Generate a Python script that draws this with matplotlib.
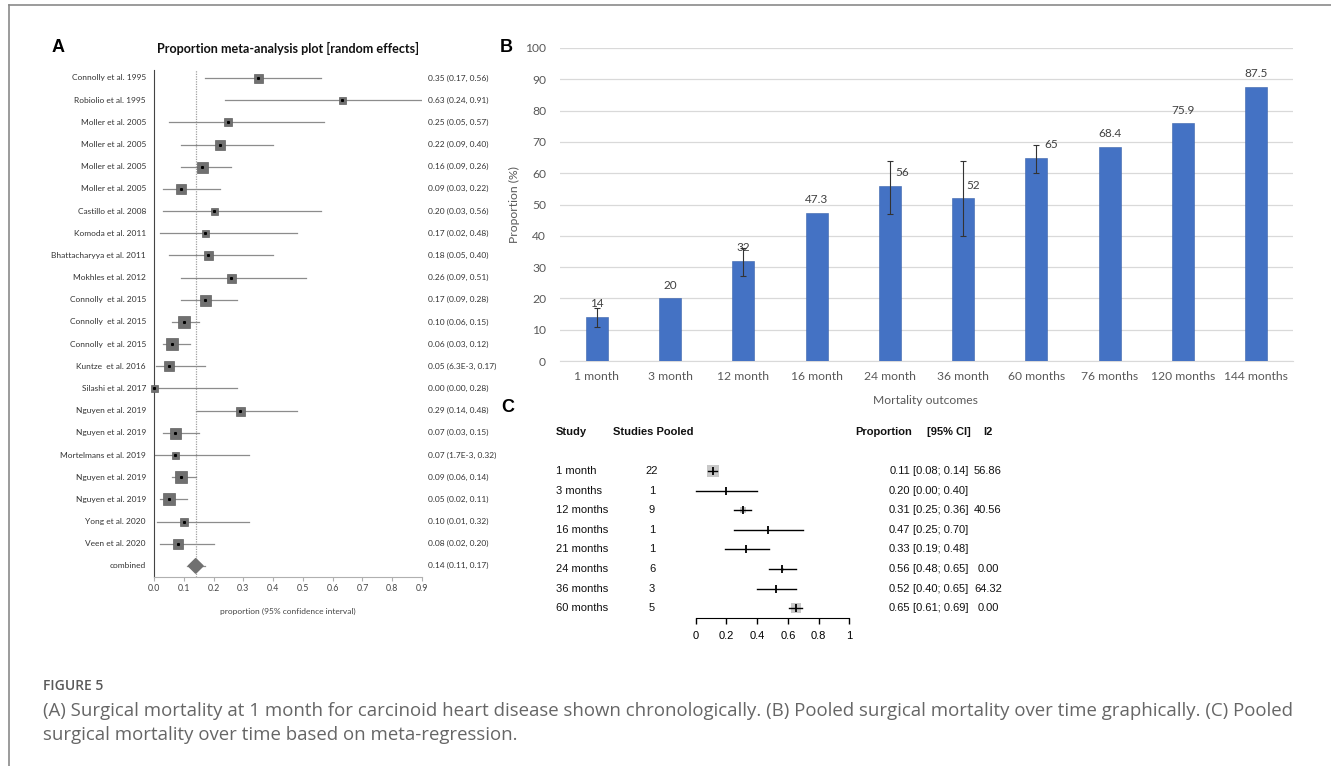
import numpy as np
import matplotlib
matplotlib.use("Agg")
import matplotlib.pyplot as plt
from matplotlib.patches import Polygon

# ---- panel A data: proportion meta-analysis (random effects) ----
studies = ["Connolly et al. 1995", "Robiolio et al. 1995", "Moller et al. 2005",
           "Moller et al. 2005", "Moller et al. 2005", "Moller et al. 2005",
           "Castillo et al. 2008", "Komoda et al. 2011", "Bhattacharyya et al. 2011",
           "Mokhles et al. 2012", "Connolly  et al. 2015", "Connolly  et al. 2015",
           "Connolly  et al. 2015", "Kuntze  et al. 2016", "Silashi et al. 2017",
           "Nguyen et al. 2019", "Nguyen et al. 2019", "Mortelmans et al. 2019",
           "Nguyen et al. 2019", "Nguyen et al. 2019", "Yong et al. 2020",
           "Veen et al. 2020"]
est_a = [0.35, 0.63, 0.25, 0.22, 0.16, 0.09, 0.20, 0.17, 0.18, 0.26, 0.17,
         0.10, 0.06, 0.05, 0.00, 0.29, 0.07, 0.07, 0.09, 0.05, 0.10, 0.08]
lo_a = [0.17, 0.24, 0.05, 0.09, 0.09, 0.03, 0.03, 0.02, 0.05, 0.09, 0.09,
        0.06, 0.03, 0.0063, 0.00, 0.14, 0.03, 0.0017, 0.06, 0.02, 0.01, 0.02]
hi_a = [0.56, 0.91, 0.57, 0.40, 0.26, 0.22, 0.56, 0.48, 0.40, 0.51, 0.28,
        0.15, 0.12, 0.17, 0.28, 0.48, 0.15, 0.32, 0.14, 0.11, 0.32, 0.20]
ci_text_a = ["0.35 (0.17, 0.56)", "0.63 (0.24, 0.91)", "0.25 (0.05, 0.57)",
             "0.22 (0.09, 0.40)", "0.16 (0.09, 0.26)", "0.09 (0.03, 0.22)",
             "0.20 (0.03, 0.56)", "0.17 (0.02, 0.48)", "0.18 (0.05, 0.40)",
             "0.26 (0.09, 0.51)", "0.17 (0.09, 0.28)", "0.10 (0.06, 0.15)",
             "0.06 (0.03, 0.12)", "0.05 (6.3E-3, 0.17)", "0.00 (0.00, 0.28)",
             "0.29 (0.14, 0.48)", "0.07 (0.03, 0.15)", "0.07 (1.7E-3, 0.32)",
             "0.09 (0.06, 0.14)", "0.05 (0.02, 0.11)", "0.10 (0.01, 0.32)",
             "0.08 (0.02, 0.20)"]
# relative study weight (square side, px)
weight_a = [9, 7, 8, 10, 11, 10, 7, 7, 9, 9, 11, 12, 12, 10, 7, 9, 11, 7, 12, 12, 8, 10]
combined = (0.14, 0.11, 0.17)
combined_text = "0.14 (0.11, 0.17)"

# ---- panel B data: pooled mortality over time ----
months_b = ["1 month", "3 month", "12 month", "16 month", "24 month", "36 month",
            "60 months", "76 months", "120 months", "144 months"]
prop_b = [14, 20, 32, 47.3, 56, 52, 65, 68.4, 75.9, 87.5]
err_lo_b = [11, np.nan, 27, np.nan, 47, 40, 60, np.nan, np.nan, np.nan]
err_hi_b = [17, np.nan, 36, np.nan, 64, 64, 69, np.nan, np.nan, np.nan]
label_b = ["14", "20", "32", "47.3", "56", "52", "65", "68.4", "75.9", "87.5"]

# ---- panel C data: meta-regression ----
period_c = ["1 month", "3 months", "12 months", "16 months", "21 months",
            "24 months", "36 months", "60 months"]
pooled_c = [22, 1, 9, 1, 1, 6, 3, 5]
est_c = [0.11, 0.20, 0.31, 0.47, 0.33, 0.56, 0.52, 0.65]
lo_c = [0.08, 0.00, 0.25, 0.25, 0.19, 0.48, 0.40, 0.61]
hi_c = [0.14, 0.40, 0.36, 0.70, 0.48, 0.65, 0.65, 0.69]
i2_c = ["56.86", "", "40.56", "", "", "0.00", "64.32", "0.00"]
weight_c = [12, 0, 6, 0, 0, 3, 0, 10]

W, H = 1331, 766
fig = plt.figure(figsize=(W / 100, H / 100), dpi=100)


def px_ax(l, t, r, b):
    return fig.add_axes([l / W, 1 - b / H, (r - l) / W, (b - t) / H])


def ftxt(x, y, s, **kw):
    kw.setdefault("va", "center")
    fig.text(x / W, 1 - y / H, s, **kw)


CAL = ["Lato", "DejaVu Sans"]
ARIAL = ["Liberation Sans", "DejaVu Sans"]

# frame
fig.add_artist(plt.Line2D([9 / W, 1], [1 - 5 / H, 1 - 5 / H], color="#8a8a8a", lw=1.2))
fig.add_artist(plt.Line2D([9 / W, 9 / W], [0, 1 - 5 / H], color="#8a8a8a", lw=1.2))

# ================= panel A =================
axA = px_ax(154, 70, 422, 577)
n = len(studies)
axA.set_xlim(0, 0.9)
axA.set_ylim(22.5, -0.36)
axA.axvline(combined[0], color="#a0a0a0", lw=0.9, ls=(0, (1, 1)), zorder=1)
for i in range(n):
    axA.plot([lo_a[i], hi_a[i]], [i, i], color="#8c8c8c", lw=0.9, zorder=2)
    axA.plot(est_a[i], i, marker="s", ms=weight_a[i] * 0.72, color="#707070",
             mec="#606060", mew=0.5, zorder=3, clip_on=False)
    axA.plot(est_a[i], i, marker="s", ms=1.2, color="black", zorder=4, clip_on=False)
    axA.text(-0.027, i, studies[i], ha="right", va="center", fontsize=6,
             family=CAL, color="#333333")
    axA.text(0.92, i, ci_text_a[i], ha="left", va="center", fontsize=6,
             family=CAL, color="#333333", clip_on=False)
c_est, c_lo, c_hi = combined
axA.plot([c_lo, c_hi], [n, n], color="#8c8c8c", lw=0.9)
axA.add_patch(Polygon([(c_lo + 0.005, n), (c_est, n - 0.33), (c_hi - 0.005, n), (c_est, n + 0.33)],
                      closed=True, color="#707070", zorder=3))
axA.text(-0.027, n, "combined", ha="right", va="center", fontsize=6, family=CAL, color="#333333")
axA.text(0.92, n, combined_text, ha="left", va="center", fontsize=6, family=CAL, color="#333333")
for s in ["top", "right"]:
    axA.spines[s].set_visible(False)
axA.spines["left"].set_color("#444444")
axA.spines["bottom"].set_color("#b0b0b0")
axA.set_yticks([])
axA.set_xticks(np.arange(0, 0.91, 0.1))
axA.set_xticklabels([f"{v:.1f}" for v in np.arange(0, 0.91, 0.1)], fontsize=6.3,
                    family=CAL, color="#444444")
axA.tick_params(axis="x", length=3, color="#b0b0b0", pad=2)
ftxt(288, 48, "Proportion meta-analysis plot [random effects]", ha="center",
     fontsize=9.1, fontweight="bold", family=CAL, color="#111111")
ftxt(288, 611, "proportion (95% confidence interval)", ha="center", fontsize=6,
     family=CAL, color="#444444")
ftxt(52, 48, "A", fontsize=13, fontweight="bold", family=ARIAL)

# ================= panel B =================
axB = px_ax(560, 48, 1293, 361)
xb = np.arange(len(months_b))
yerr = np.array([np.array(prop_b) - np.array(err_lo_b), np.array(err_hi_b) - np.array(prop_b)])
axB.bar(xb, prop_b, width=0.3, color="#4472c4", edgecolor="#3a62ab", lw=0.4, zorder=3)
axB.errorbar(xb, prop_b, yerr=yerr, fmt="none", ecolor="#333333", elinewidth=0.8,
             capsize=2.5, capthick=0.8, zorder=4)
label_dx = [0, 0, 0, 0, 9, 7, 11, 0, 0, 0]  # points
for i, v in enumerate(prop_b):
    axB.annotate(label_b[i], (xb[i], v), xytext=(label_dx[i], 9.5), textcoords="offset points",
                 ha="center", va="center", fontsize=8.5, family=CAL, color="#404040")
axB.set_xlim(-0.5, 9.5)
axB.set_ylim(0, 100)
axB.set_yticks(range(0, 101, 10))
axB.grid(axis="y", color="#d9d9d9", lw=0.9, zorder=0)
for s in ["top", "right", "left"]:
    axB.spines[s].set_visible(False)
axB.spines["bottom"].set_color("#d9d9d9")
axB.set_xticks(xb)
axB.set_xticklabels(months_b)
axB.tick_params(axis="both", length=0, labelsize=8.7, labelcolor="#595959")
axB.tick_params(axis="y", pad=10)
axB.tick_params(axis="x", pad=7)
for lab in axB.get_xticklabels() + axB.get_yticklabels():
    lab.set_family(CAL)
ftxt(925, 400, "Mortality outcomes", ha="center", fontsize=8.7, family=CAL, color="#595959")
ftxt(514, 205, "Proportion (%)", ha="center", rotation=90, fontsize=8.7, family=CAL,
     color="#595959")
ftxt(500, 48, "B", fontsize=13, fontweight="bold", family=ARIAL)

# ================= panel C =================
axC = px_ax(695.7, 460, 849.3, 618)
axC.set_xlim(0, 1)
axC.set_ylim(7.5, -0.56)
for i in range(len(period_c)):
    if weight_c[i] > 0:
        axC.plot(est_c[i], i, marker="s", ms=weight_c[i] * 0.72, color="#c8c8c8",
                 mew=0, zorder=2, clip_on=False)
    axC.plot([lo_c[i], hi_c[i]], [i, i], color="black", lw=1, zorder=3, clip_on=False)
    axC.plot(est_c[i], i, marker="|", ms=6, mew=1.3, color="black", zorder=4, clip_on=False)
    y = 471 + i * 19.6
    ftxt(556, y, period_c[i], fontsize=8, family=ARIAL, color="#111111")
    ftxt(652, y, str(pooled_c[i]), ha="center", fontsize=8, family=ARIAL, color="#111111")
    ftxt(910, y, f"{est_c[i]:.2f}", ha="right", fontsize=8, family=ARIAL, color="#111111")
    ftxt(913, y, f"[{lo_c[i]:.2f}; {hi_c[i]:.2f}]", ha="left", fontsize=8, family=ARIAL,
         color="#111111")
    if i2_c[i]:
        ftxt(988, y, i2_c[i], ha="center", fontsize=8, family=ARIAL, color="#111111")
for s in ["top", "right", "left"]:
    axC.spines[s].set_visible(False)
axC.set_yticks([])
axC.set_xticks([0, 0.2, 0.4, 0.6, 0.8, 1])
axC.set_xticklabels(["0", "0.2", "0.4", "0.6", "0.8", "1"], fontsize=8, family=ARIAL)
axC.tick_params(axis="x", length=4.5, width=1, pad=5)
for x, s in [(556, "Study"), (613, "Studies Pooled"), (855, "Proportion"),
             (927, "[95% CI]"), (983, "I2")]:
    ftxt(x, 432, s, fontsize=8, fontweight="bold", family=ARIAL, color="#111111")
ftxt(501, 407, "C", fontsize=13, fontweight="bold", family=ARIAL)

# ================= caption =================
OPEN = ["Open Sans", "DejaVu Sans"]
ftxt(43, 686, "FIGURE 5", fontsize=10, fontweight="semibold", family=OPEN, color="#5a5a5a")
ftxt(43, 711, "(A) Surgical mortality at 1 month for carcinoid heart disease shown chronologically. "
     "(B) Pooled surgical mortality over time graphically. (C) Pooled",
     fontsize=13.4, family=OPEN, color="#666666")
ftxt(43, 735, "surgical mortality over time based on meta-regression.",
     fontsize=13.4, family=OPEN, color="#666666")

fig.savefig("out.png", dpi=100)
